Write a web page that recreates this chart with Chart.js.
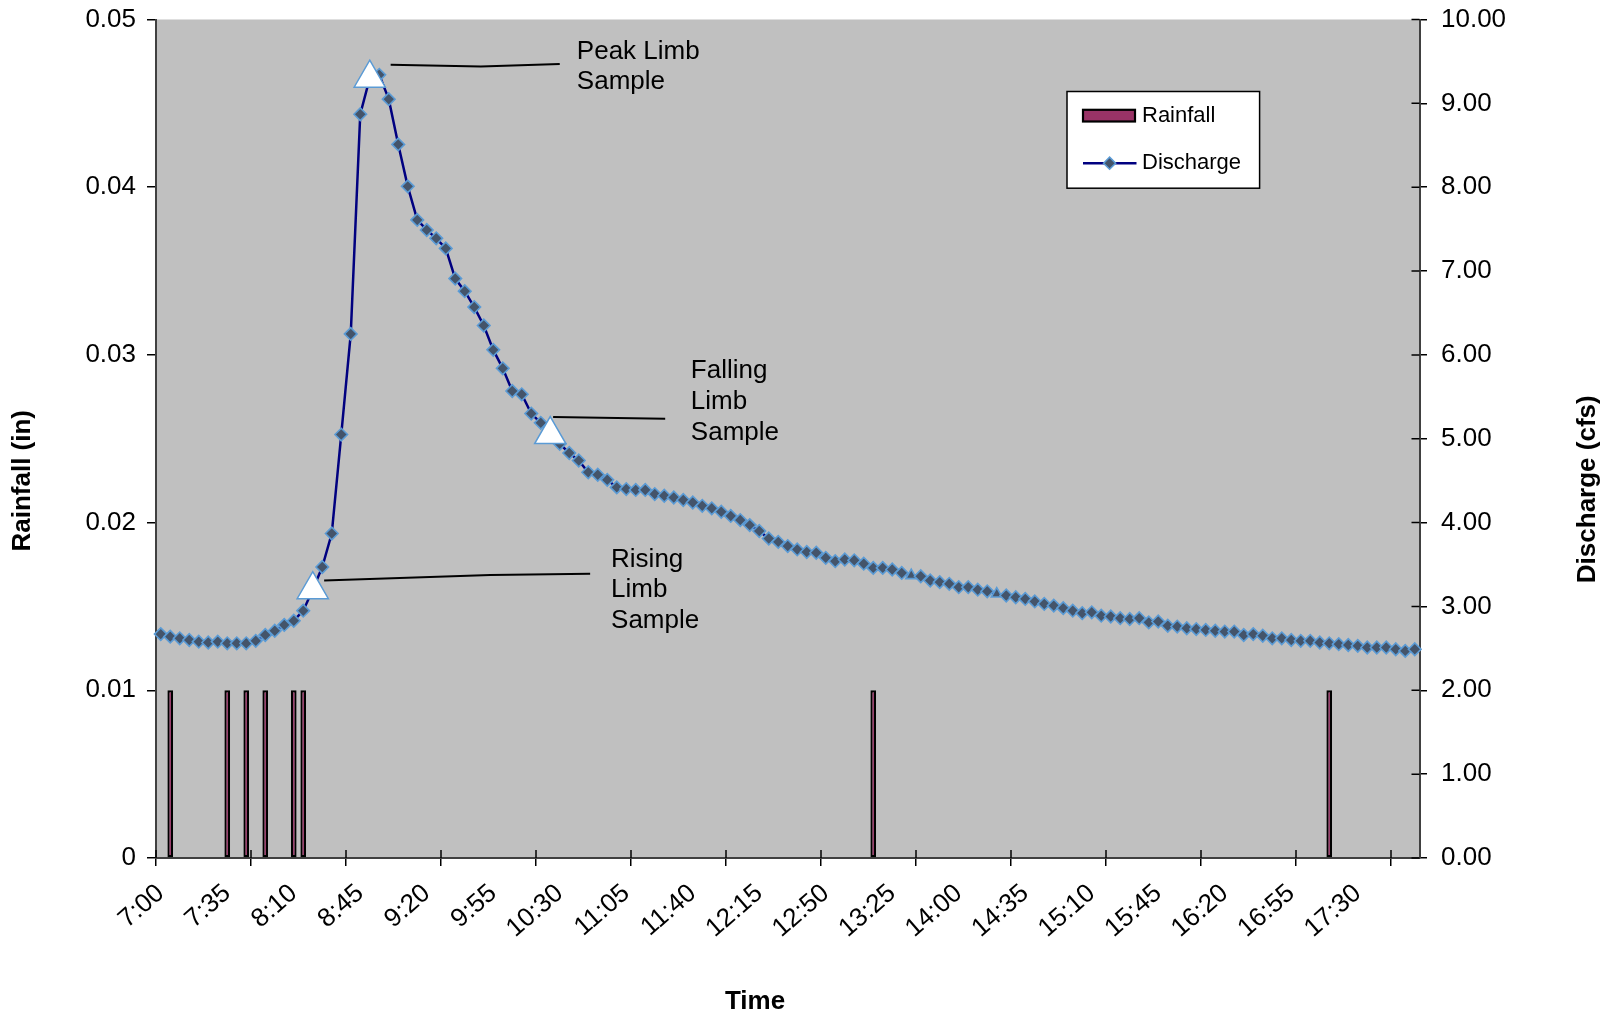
<!DOCTYPE html>
<html lang="en">

<head>
    <meta charset="UTF-8" />
    <title>Rainfall x Discharge</title>
    <script src="https://cdn.jsdelivr.net/npm/chart.js"></script>
    <style>
        html, body { margin: 0; padding: 0; background: #fff; }
        .grafico { position: relative; width: 1610px; height: 1019px; }
    </style>
</head>

<body>
    <div class="grafico">
        <canvas id="myChart" width="1610" height="1019"></canvas>
    </div>

<script>
    // categorias: horarios de 5 em 5 minutos
    const horarios = [
        '7:00', '7:05', '7:10', '7:15', '7:20', '7:25', '7:30', '7:35', '7:40', '7:45', '7:50', '7:55',
        '8:00', '8:05', '8:10', '8:15', '8:20', '8:25', '8:30', '8:35', '8:40', '8:45', '8:50', '8:55',
        '9:00', '9:05', '9:10', '9:15', '9:20', '9:25', '9:30', '9:35', '9:40', '9:45', '9:50', '9:55',
        '10:00', '10:05', '10:10', '10:15', '10:20', '10:25', '10:30', '10:35', '10:40', '10:45', '10:50', '10:55',
        '11:00', '11:05', '11:10', '11:15', '11:20', '11:25', '11:30', '11:35', '11:40', '11:45', '11:50', '11:55',
        '12:00', '12:05', '12:10', '12:15', '12:20', '12:25', '12:30', '12:35', '12:40', '12:45', '12:50', '12:55',
        '13:00', '13:05', '13:10', '13:15', '13:20', '13:25', '13:30', '13:35', '13:40', '13:45', '13:50', '13:55',
        '14:00', '14:05', '14:10', '14:15', '14:20', '14:25', '14:30', '14:35', '14:40', '14:45', '14:50', '14:55',
        '15:00', '15:05', '15:10', '15:15', '15:20', '15:25', '15:30', '15:35', '15:40', '15:45', '15:50', '15:55',
        '16:00', '16:05', '16:10', '16:15', '16:20', '16:25', '16:30', '16:35', '16:40', '16:45', '16:50', '16:55',
        '17:00', '17:05', '17:10', '17:15', '17:20', '17:25', '17:30', '17:35', '17:40', '17:45', '17:50', '17:55',
        '18:00'
    ];

    // vazao (cfs), um valor por horario
    const vazao = [
        2.67, 2.64, 2.62, 2.60, 2.58, 2.57, 2.58, 2.56, 2.56, 2.56,
        2.59, 2.66, 2.71, 2.78, 2.83, 2.95, 3.20, 3.47, 3.87, 5.05,
        6.25, 8.87, 9.30, 9.34, 9.05, 8.51, 8.01, 7.61, 7.49, 7.39,
        7.27, 6.91, 6.76, 6.57, 6.35, 6.06, 5.84, 5.57, 5.53, 5.30,
        5.19, 5.05, 4.94, 4.83, 4.74, 4.60, 4.57, 4.51, 4.42, 4.40,
        4.39, 4.39, 4.34, 4.32, 4.30, 4.27, 4.24, 4.20, 4.17, 4.13,
        4.08, 4.03, 3.97, 3.90, 3.81, 3.77, 3.72, 3.68, 3.65, 3.64,
        3.58, 3.54, 3.56, 3.55, 3.51, 3.46, 3.46, 3.44, 3.40, 3.37,
        3.36, 3.31, 3.29, 3.27, 3.23, 3.23, 3.20, 3.18, 3.15, 3.13,
        3.11, 3.09, 3.06, 3.03, 3.01, 2.98, 2.95, 2.92, 2.93, 2.89,
        2.88, 2.86, 2.85, 2.86, 2.81, 2.82, 2.77, 2.76, 2.74, 2.73,
        2.72, 2.71, 2.70, 2.70, 2.66, 2.67, 2.65, 2.62, 2.62, 2.60,
        2.59, 2.59, 2.57, 2.56, 2.55, 2.54, 2.53, 2.51, 2.51, 2.51,
        2.49, 2.47, 2.49
    ];

    // chuva (in)
    const horariosChuva = ['7:05', '7:35', '7:45', '7:55', '8:10', '8:15', '13:15', '17:15'];
    const valoresChuva = [0.01, 0.01, 0.01, 0.01, 0.01, 0.01, 0.01, 0.01];

    // pontos de amostra (triangulos brancos) e marcadores triangulares da serie
    const indicesAmostra = [16, 22, 41];
    const indicesTriangulo = [79, 88];

    const ticksChuva = [0, 0.01, 0.02, 0.03, 0.04, 0.05];
    const ticksVazao = [0, 1, 2, 3, 4, 5, 6, 7, 8, 9, 10];

    // textos e tracos de anotacao (em unidades do grafico: indice, cfs)
    const notas = [
        { linhas: ['Peak Limb', 'Sample'], x: 43.8, y: 9.62 },
        { linhas: ['Falling', 'Limb', 'Sample'], x: 55.8, y: 5.81 },
        { linhas: ['Rising', 'Limb', 'Sample'], x: 47.4, y: 3.56 }
    ];
    const tracos = [
        [[24.2, 9.46], [33.7, 9.44], [42.0, 9.47]],
        [[41.3, 5.26], [53.1, 5.24]],
        [[17.2, 3.31], [34.7, 3.375], [45.2, 3.39]]
    ];

    const fonte = "'Liberation Sans', Arial, sans-serif";
    Chart.defaults.font.family = fonte;
    Chart.defaults.color = '#000';

    // fundo cinza da area de plotagem
    const fundo = {
        id: 'fundo',
        beforeDraw(chart) {
            const { ctx, chartArea: a } = chart;
            ctx.save();
            ctx.fillStyle = '#c0c0c0';
            ctx.fillRect(a.left, a.top, a.right - a.left, a.bottom - a.top);
            ctx.restore();
        }
    };

    // parte interna das marcas dos eixos (x e direito)
    const marcas = {
        id: 'marcas',
        afterDatasetsDraw(chart) {
            const { ctx, chartArea: a, scales } = chart;
            ctx.save();
            ctx.strokeStyle = '#000';
            ctx.lineWidth = 1.5;
            ctx.beginPath();
            for (let i = 0; i < horarios.length; i += 10) {
                const px = scales.x.getPixelForValue(i - 0.5);
                ctx.moveTo(px, a.bottom - 8);
                ctx.lineTo(px, a.bottom);
            }
            ticksVazao.forEach(function (v) {
                const py = scales.y1.getPixelForValue(v);
                ctx.moveTo(a.right - 8, py);
                ctx.lineTo(a.right, py);
            });
            ctx.stroke();
            ctx.restore();
        }
    };

    // anotacoes das amostras
    const anotacoes = {
        id: 'anotacoes',
        afterDatasetsDraw(chart) {
            const { ctx, scales } = chart;
            const sx = scales.x, sy = scales.y1;
            ctx.save();
            ctx.strokeStyle = '#000';
            ctx.lineWidth = 2;
            tracos.forEach(function (t) {
                ctx.beginPath();
                t.forEach(function (p, k) {
                    const px = sx.getPixelForValue(p[0]);
                    const py = sy.getPixelForValue(p[1]);
                    if (k === 0) ctx.moveTo(px, py); else ctx.lineTo(px, py);
                });
                ctx.stroke();
            });
            ctx.fillStyle = '#000';
            ctx.font = '26px ' + fonte;
            ctx.textAlign = 'left';
            ctx.textBaseline = 'middle';
            notas.forEach(function (n) {
                const px = sx.getPixelForValue(n.x);
                const py = sy.getPixelForValue(n.y);
                n.linhas.forEach(function (l, k) {
                    ctx.fillText(l, px, py + k * 30.8);
                });
            });
            ctx.restore();
        }
    };

    // titulos dos eixos (fora do centro, como no original)
    const titulos = {
        id: 'titulos',
        afterDraw(chart) {
            const { ctx, chartArea: a } = chart;
            const meioX = (a.left + a.right) / 2;
            const meioY = (a.top + a.bottom) / 2;
            ctx.save();
            ctx.fillStyle = '#000';
            ctx.font = 'bold 26px ' + fonte;
            ctx.textAlign = 'center';
            ctx.textBaseline = 'middle';
            ctx.fillText('Time', meioX - 32.7, a.bottom + 144);
            [['Rainfall (in)', a.left - 133.4, meioY + 42], ['Discharge (cfs)', a.right + 168, meioY + 50.5]].forEach(function (t) {
                ctx.save();
                ctx.translate(t[1], t[2]);
                ctx.rotate(-Math.PI / 2);
                ctx.fillText(t[0], 0, 0);
                ctx.restore();
            });
            ctx.restore();
        }
    };

    // legenda dentro da area de plotagem
    const legenda = {
        id: 'legenda',
        afterDraw(chart) {
            const { ctx, chartArea: a } = chart;
            const bx = a.left + 911, by = a.top + 72, bw = 192.6, bh = 96.7;
            ctx.save();
            ctx.fillStyle = '#fff';
            ctx.fillRect(bx, by, bw, bh);
            ctx.strokeStyle = '#000';
            ctx.lineWidth = 1.5;
            ctx.strokeRect(bx, by, bw, bh);

            ctx.fillStyle = '#993366';
            ctx.fillRect(bx + 16, by + 18.3, 52, 11.7);
            ctx.lineWidth = 2.2;
            ctx.strokeRect(bx + 16, by + 18.3, 52, 11.7);

            ctx.strokeStyle = '#000080';
            ctx.lineWidth = 2.5;
            ctx.beginPath();
            ctx.moveTo(bx + 16, by + 71.7);
            ctx.lineTo(bx + 69.5, by + 71.7);
            ctx.stroke();
            ctx.fillStyle = '#44546a';
            ctx.strokeStyle = '#5b9bd5';
            ctx.lineWidth = 1.6;
            ctx.beginPath();
            const cx = bx + 42.6, cy = by + 71.7, r = 6;
            ctx.moveTo(cx - r, cy); ctx.lineTo(cx, cy - r); ctx.lineTo(cx + r, cy); ctx.lineTo(cx, cy + r);
            ctx.closePath();
            ctx.fill();
            ctx.stroke();

            ctx.fillStyle = '#000';
            ctx.font = '22px ' + fonte;
            ctx.textAlign = 'left';
            ctx.textBaseline = 'middle';
            ctx.fillText('Rainfall', bx + 75, by + 24);
            ctx.fillText('Discharge', bx + 75, by + 71.7);
            ctx.restore();
        }
    };

    function plotarGrafico() {
        const amostras = horarios.map(function (h, i) {
            return indicesAmostra.includes(i) ? vazao[i] : null;
        });
        const chuva = horariosChuva.map(function (h, i) {
            return { x: h, y: valoresChuva[i] };
        });

        const dados = {
            labels: horarios,
            datasets: [
                {
                    type: 'line',
                    label: 'Samples',
                    data: amostras,
                    yAxisID: 'y1',
                    showLine: false,
                    pointStyle: 'triangle',
                    pointRadius: 18,
                    pointBackgroundColor: '#ffffff',
                    pointBorderColor: '#5b9bd5',
                    pointBorderWidth: 1.5,
                    order: 0
                },
                {
                    type: 'line',
                    label: 'Discharge',
                    data: vazao,
                    yAxisID: 'y1',
                    borderColor: '#000080',
                    borderWidth: 2.5,
                    tension: 0,
                    pointStyle: function (c) {
                        return indicesTriangulo.includes(c.dataIndex) ? 'triangle' : 'rectRot';
                    },
                    pointRadius: 6.3,
                    pointBackgroundColor: '#44546a',
                    pointBorderColor: '#5b9bd5',
                    pointBorderWidth: 1.6,
                    order: 1
                },
                {
                    type: 'bar',
                    label: 'Rainfall',
                    data: chuva,
                    yAxisID: 'y',
                    backgroundColor: '#993366',
                    borderColor: '#000000',
                    borderWidth: 2.2,
                    borderSkipped: false,
                    barPercentage: 0.6,
                    categoryPercentage: 1,
                    order: 2
                }
            ]
        };

        const config = {
            type: 'bar',
            data: dados,
            options: {
                responsive: false,
                animation: false,
                devicePixelRatio: 1,
                layout: { padding: { top: 18, left: 0, right: 0, bottom: 0 } },
                plugins: {
                    legend: { display: false },
                    tooltip: { enabled: false }
                },
                scales: {
                    x: {
                        type: 'category',
                        offset: true,
                        grid: {
                            offset: true,
                            drawOnChartArea: false,
                            tickLength: 8,
                            lineWidth: 1.5,
                            color: function (c) {
                                return (c.index !== undefined && c.index % 10 === 0) ? '#000' : 'rgba(0,0,0,0)';
                            }
                        },
                        border: { display: true, color: '#404040', width: 2 },
                        ticks: {
                            autoSkip: false,
                            minRotation: 41,
                            maxRotation: 41,
                            padding: 12,
                            font: { size: 26 },
                            color: '#000',
                            callback: function (v, i) {
                                return i % 7 === 0 ? this.getLabelForValue(v) : '';
                            }
                        },
                        afterFit: function (s) { s.height = 161; }
                    },
                    y: {
                        type: 'linear',
                        position: 'left',
                        min: 0,
                        max: 0.05,
                        afterBuildTicks: function (s) {
                            s.ticks = ticksChuva.map(function (v) { return { value: v }; });
                        },
                        ticks: {
                            padding: 11,
                            font: { size: 26 },
                            color: '#000',
                            callback: function (v) { return v === 0 ? '0' : v.toFixed(2); }
                        },
                        grid: { drawOnChartArea: false, tickLength: 9, color: '#000', lineWidth: 1.5 },
                        border: { display: true, color: '#404040', width: 2 },
                        afterFit: function (s) { s.width = 156; s.paddingTop = 0; s.paddingBottom = 0; }
                    },
                    y1: {
                        type: 'linear',
                        position: 'right',
                        min: 0,
                        max: 10,
                        afterBuildTicks: function (s) {
                            s.ticks = ticksVazao.map(function (v) { return { value: v }; });
                        },
                        ticks: {
                            padding: 14,
                            font: { size: 26 },
                            color: '#000',
                            callback: function (v) { return v.toFixed(2); }
                        },
                        grid: { drawOnChartArea: false, tickLength: 7.5, color: '#000', lineWidth: 1.5 },
                        border: { display: true, color: '#404040', width: 2 },
                        afterFit: function (s) { s.width = 190.5; s.paddingTop = 0; s.paddingBottom = 0; }
                    }
                }
            },
            plugins: [fundo, marcas, anotacoes, titulos, legenda]
        };

        new Chart(document.getElementById('myChart'), config);
    }

    plotarGrafico();
</script>
</body>

</html>
